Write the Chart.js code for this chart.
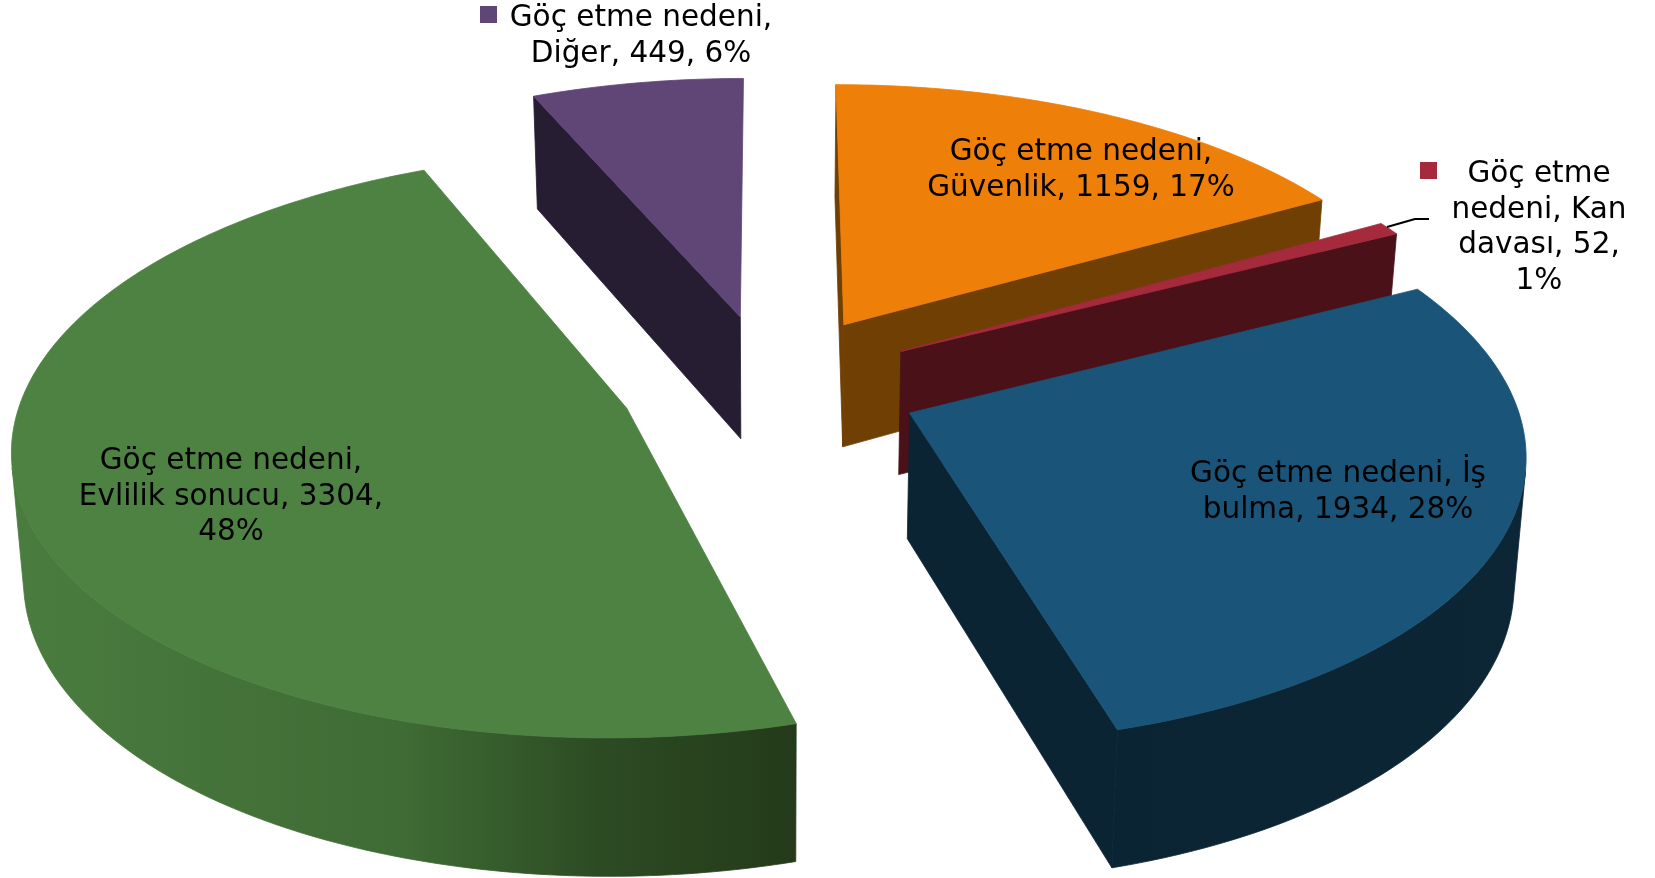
<!DOCTYPE html>
<html lang="tr">
<head>
<meta charset="utf-8">
<title>Göç etme nedeni</title>
<style>html,body{margin:0;padding:0;background:#fff}canvas{display:block}</style>
<script src="https://cdn.jsdelivr.net/npm/chart.js@4/dist/chart.umd.min.js"></script>
</head>
<body>
<canvas id="c" width="1655" height="878"></canvas>
<script>
const seriesName = 'Göç etme nedeni';
const categories = ['Güvenlik', 'Kan davası', 'İş bulma', 'Evlilik sonucu', 'Diğer'];
const values = [1159, 52, 1934, 3304, 449];
const percents = [17, 1, 28, 48, 6];

const topColors = ['#EE7F09', '#A52A3C', '#1A5579', '#4E8242', '#5F4677'];
const sideColors = ['#703F03', '#4A1118', '#0B2434', '#243A1A', '#271D33'];
const rimStops = [
  [[0, '#703F03'], [1, '#703F03']],
  [[0, '#4A1118'], [1, '#4A1118']],
  [[0, '#0B2434'], [1, '#0C2636']],
  [[0, '#4A7C3F'], [0.5, '#3F6B34'], [0.75, '#2C4B23'], [1, '#243A1A']],
  [[0, '#271D33'], [1, '#271D33']]
];

// view of the tilted pie (unit radius in the pie plane)
const view = {x0: 770, y0: 384.3, A: 602, B: 283, k: 0.122, H: 124.5, converge: 0.016, explode: 0.25};

function project(X, Y, low) {
  const w = 1 - view.k * Y;
  let sx = view.x0 + view.A * X / w;
  let sy = view.y0 + view.B * Y / w;
  if (low) {
    sx = view.x0 + (sx - view.x0) * (1 - view.converge);
    sy += view.H / Math.pow(w, 0.75);
  }
  return [sx, sy];
}
function area(q) {
  let s = 0;
  for (let i = 0; i < q.length; i++) {
    const a = q[i], b = q[(i + 1) % q.length];
    s += a[0] * b[1] - b[0] * a[1];
  }
  return s;
}
function fillPoly(ctx, pts, style) {
  ctx.beginPath();
  pts.forEach((p, i) => i ? ctx.lineTo(p[0], p[1]) : ctx.moveTo(p[0], p[1]));
  ctx.closePath();
  ctx.fillStyle = style;
  ctx.strokeStyle = style;
  ctx.lineWidth = 0.8;
  ctx.lineJoin = 'round';
  ctx.fill();
  ctx.stroke();
}

const pie3d = {
  id: 'pie3d',
  beforeDatasetDraw(chart, args) {
    const ctx = chart.ctx;
    chart.getDatasetMeta(args.index).data.forEach((arc, i) => {
      const a0 = arc.startAngle, a1 = arc.endAngle, mid = (a0 + a1) / 2;
      const ox = Math.cos(mid) * view.explode, oy = Math.sin(mid) * view.explode;
      const n = Math.max(4, Math.ceil((a1 - a0) * 60));
      const rim = [];
      for (let j = 0; j <= n; j++) {
        const t = a0 + (a1 - a0) * j / n;
        rim.push([ox + Math.cos(t), oy + Math.sin(t)]);
      }
      const top = p => project(p[0], p[1], false);
      const low = p => project(p[0], p[1], true);
      const apex = [ox, oy];

      // outer rim, only the parts facing the viewer
      const rimTop = rim.map(top), rimLow = rim.map(low);
      const xs = rimTop.map(p => p[0]);
      const grad = ctx.createLinearGradient(Math.min(...xs), 0, Math.max(...xs), 0);
      rimStops[i].forEach(s => grad.addColorStop(s[0], s[1]));
      let run = [];
      const flush = () => {
        if (run.length) {
          const upper = run.map(j => rimTop[j]);
          const lower = run.map(j => rimLow[j]).reverse();
          fillPoly(ctx, upper.concat(lower), grad);
        }
        run = [];
      };
      for (let j = 0; j < n; j++) {
        const q = [rimTop[j], rimTop[j + 1], rimLow[j + 1], rimLow[j]];
        if (area(q) < 0) {
          if (!run.length) run.push(j);
          run.push(j + 1);
        } else flush();
      }
      flush();

      // the two cut faces (grazing faces stay hidden)
      const edges = [[apex, rim[0]], [rim[n], apex]];
      edges.forEach(e => {
        const q = [top(e[0]), top(e[1]), low(e[1]), low(e[0])];
        if (area(q) < -1500) fillPoly(ctx, q, sideColors[i]);
      });

      // top face
      fillPoly(ctx, [top(apex)].concat(rimTop), topColors[i]);
    });
    return false;
  }
};

// label placement: centre x, first baseline y, wrap width
const labelBoxes = [
  {cx: 1081, y: 160, wrap: 320},
  {cx: 1539, y: 182, wrap: 188},
  {cx: 1338, y: 482, wrap: 330},
  {cx: 231, y: 469, wrap: 325},
  {cx: 641, y: 26, wrap: 285}
];
const keyBoxes = [null, {x: 1420, y: 162}, null, null, {x: 480, y: 6}];
const lineStep = 35.6, keySize = 17;

const labels3d = {
  id: 'labels3d',
  afterDraw(chart) {
    const ctx = chart.ctx;
    ctx.save();
    ctx.font = '29.5px "DejaVu Sans", Verdana, sans-serif';
    ctx.textAlign = 'center';
    ctx.textBaseline = 'alphabetic';
    categories.forEach((cat, i) => {
      const words = `${seriesName}, ${cat}, ${values[i]}, ${percents[i]}%`.split(' ');
      const lines = [];
      let cur = '';
      words.forEach(w => {
        const next = cur ? cur + ' ' + w : w;
        if (cur && ctx.measureText(next).width > labelBoxes[i].wrap) { lines.push(cur); cur = w; }
        else cur = next;
      });
      lines.push(cur);
      ctx.fillStyle = '#000';
      lines.forEach((l, k) => ctx.fillText(l, labelBoxes[i].cx, labelBoxes[i].y + k * lineStep));
      if (keyBoxes[i]) {
        ctx.fillStyle = topColors[i];
        ctx.fillRect(keyBoxes[i].x, keyBoxes[i].y, keySize, keySize);
      }
    });
    // leader line for the thin slice
    ctx.beginPath();
    ctx.moveTo(1387, 227);
    ctx.lineTo(1415, 219);
    ctx.lineTo(1429, 219);
    ctx.strokeStyle = '#000';
    ctx.lineWidth = 2;
    ctx.stroke();
    ctx.restore();
  }
};

new Chart(document.getElementById('c'), {
  type: 'pie',
  data: {
    labels: categories,
    datasets: [{label: seriesName, data: values, backgroundColor: topColors}]
  },
  options: {
    responsive: false,
    animation: false,
    rotation: 0,
    plugins: {legend: {display: false}, tooltip: {enabled: false}}
  },
  plugins: [pie3d, labels3d]
});
</script>
</body>
</html>
